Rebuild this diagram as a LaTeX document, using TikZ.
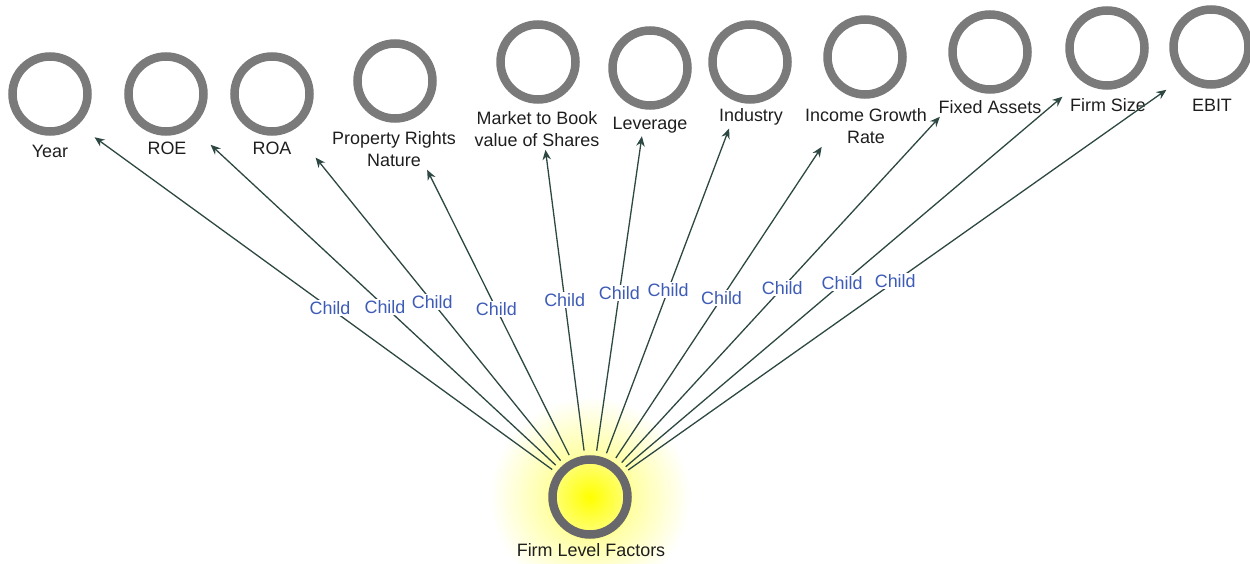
\documentclass[tikz,border=0pt]{standalone}
\usepackage{fontspec}
\setmainfont{Liberation Sans}
\usetikzlibrary{arrows.meta,fit}
\definecolor{ringgray}{RGB}{122,122,122}
\definecolor{ringdark}{RGB}{104,104,108}
\definecolor{arrowgreen}{RGB}{45,72,66}
\definecolor{childblue}{RGB}{62,92,182}
\definecolor{textgray}{RGB}{30,30,30}
\pgfdeclareradialshading{firmglow}{\pgfpoint{0bp}{0bp}}{color(0bp)=(yellow); color(9bp)=(yellow!55); color(11bp)=(yellow!35); color(25bp)=(white); color(50bp)=(white)}
\begin{document}
\begin{tikzpicture}[x=0.2mm,y=-0.2mm,>={Stealth[length=2mm,width=1.7mm]},
    factor/.style={circle,draw=ringgray,line width=1.7mm,minimum size=15mm,inner sep=0pt},
    flabel/.style={inner sep=0pt,align=center,text=textgray,font=\fontsize{10.2}{12.6}\selectfont},
    grp/.style={inner sep=0.5mm},
    linkarrow/.style={->,draw=arrowgreen,line width=0.26mm,shorten <=1mm},
    childlbl/.style={fill=white,inner sep=0.3mm,text=childblue,font=\fontsize{10.2}{12}\selectfont}]
\useasboundingbox (0,0) rectangle (1250,564);
% glow behind the parent
\shade[shading=firmglow] (590,497) circle (20mm);

\node[factor,draw=ringdark] (firm) at (590,497) {};
\node[flabel] (firmT) at (591,550) {Firm Level Factors};

\node[factor] (year) at (50,94) {};
\node[flabel] (yearT) at (50,151) {Year};
\node[grp,fit=(year)(yearT)] (yearG) {};
\node[factor] (roe) at (166,94) {};
\node[flabel] (roeT) at (167,148) {ROE};
\node[grp,fit=(roe)(roeT)] (roeG) {};
\node[factor] (roa) at (272,94) {};
\node[flabel] (roaT) at (272,148) {ROA};
\node[grp,fit=(roa)(roaT)] (roaG) {};
\node[factor] (prop) at (395,81) {};
\node[flabel] (propT) at (394,149) {Property Rights\\Nature};
\node[grp,fit=(prop)(propT)] (propG) {};
\node[factor] (mtb) at (538,62) {};
\node[flabel] (mtbT) at (537,129) {Market to Book\\value of Shares};
\node[grp,fit=(mtb)(mtbT)] (mtbG) {};
\node[factor] (lev) at (650,68) {};
\node[flabel] (levT) at (650,125) {Leverage};
\node[grp,fit=(lev)(levT)] (levG) {};
\node[factor] (ind) at (750,62) {};
\node[flabel] (indT) at (751,117) {Industry};
\node[grp,fit=(ind)(indT)] (indG) {};
\node[factor] (inc) at (865,57) {};
\node[flabel] (incT) at (866,126) {Income Growth\\Rate};
\node[grp,fit=(inc)(incT)] (incG) {};
\node[factor] (fix) at (990,52) {};
\node[flabel] (fixT) at (990,107) {Fixed Assets};
\node[grp,fit=(fix)(fixT)] (fixG) {};
\node[factor] (size) at (1107,48) {};
\node[flabel] (sizeT) at (1108,105) {Firm Size};
\node[grp,fit=(size)(sizeT)] (sizeG) {};
\node[factor] (ebit) at (1211,47) {};
\node[flabel] (ebitT) at (1212,105) {EBIT};
\node[grp,fit=(ebit)(ebitT)] (ebitG) {};

% child links
\draw[linkarrow] (firm) -- node[childlbl,pos=.49] (c1) {Child} (yearG);
\draw[linkarrow] (firm) -- node[childlbl,pos=.50] (c2) {Child} (roeG);
\draw[linkarrow] (firm) -- node[childlbl,pos=.53] (c3) {Child} (roaG);
\draw[linkarrow] (firm) -- node[childlbl,pos=.52] (c4) {Child} (propG);
\draw[linkarrow] (firm) -- node[childlbl,pos=.51] (c5) {Child} (mtbG);
\draw[linkarrow] (firm) -- node[childlbl,pos=.51] (c6) {Child} (levG);
\draw[linkarrow] (firm) -- node[childlbl,pos=.51] (c7) {Child} (indG);
\draw[linkarrow] (firm) -- node[childlbl,pos=.52] (c8) {Child} (incG);
\draw[linkarrow] (firm) -- node[childlbl,pos=.51] (c9) {Child} (fixG);
\draw[linkarrow] (firm) -- node[childlbl,pos=.50] (c10) {Child} (sizeG);
\draw[linkarrow] (firm) -- node[childlbl,pos=.50] (c11) {Child} (ebitG);

\end{tikzpicture}
\end{document}
